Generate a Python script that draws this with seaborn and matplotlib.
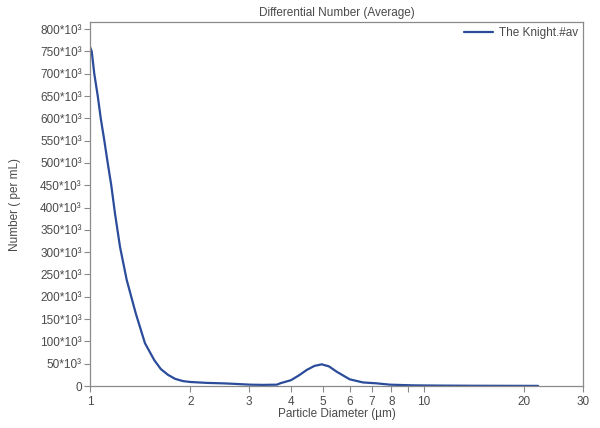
import numpy as np
import pandas as pd
import matplotlib; matplotlib.use("Agg")
import matplotlib.pyplot as plt
import matplotlib.ticker as mticker
import seaborn as sns

# (diameter in µm, count per mL)
diameter = [1.0, 1.012, 1.030, 1.055, 1.077, 1.104, 1.130, 1.158, 1.188, 1.230,
            1.288, 1.371, 1.461, 1.558, 1.63, 1.713, 1.80, 1.90,
            2.0, 2.242, 2.5, 2.682, 3.016, 3.3, 3.633, 3.709, 4.0, 4.23,
            4.459, 4.7, 4.946, 5.2, 5.485, 6.0, 6.576, 7.228, 7.922, 9.285,
            11.0, 14.0, 18.0, 22.0]
number_k = [760, 750, 700, 650, 600, 550, 500, 450, 387, 312,
            238, 163, 96, 58, 38, 25, 16, 11,
            9, 7, 6, 5, 3, 2.5, 3, 6, 13, 24,
            36, 45, 48.6, 44, 32, 15, 8, 6, 3, 1.5,
            1.0, 0.6, 0.4, 0.3]
series_name = "The Knight.#av"

x_major = [1, 2, 3, 4, 5, 6, 7, 8, 10, 20, 30]
x_minor = [9]
y_ticks = list(range(0, 800001, 50000))

LINE = "#2B4C9B"
TXT = "#4A4A4A"
SPINE = "#8A8A8A"

sns.set_style("white")
plt.rcParams["font.family"] = ["Liberation Sans", "DejaVu Sans"]

df = pd.DataFrame({"diameter": diameter,
                   "number": np.array(number_k) * 1000.0,
                   "series": series_name})

fig = plt.figure(figsize=(6.0, 4.28), dpi=100)
ax = fig.add_axes([0.15, 0.0981, 0.8217, 0.8505])

sns.lineplot(data=df, x="diameter", y="number", hue="series",
             palette=[LINE], lw=1.6, ax=ax, legend=True)

ax.set_xscale("log")
ax.set_xlim(1, 30)
ax.set_ylim(0, 816000)
ax.xaxis.set_major_locator(mticker.FixedLocator(x_major))
ax.xaxis.set_minor_locator(mticker.FixedLocator(x_minor))
ax.xaxis.set_major_formatter(mticker.FixedFormatter([str(v) for v in x_major]))
ax.xaxis.set_minor_formatter(mticker.NullFormatter())
ax.set_yticks(y_ticks)
ax.yaxis.set_major_formatter(mticker.FuncFormatter(
    lambda v, p: "0" if v == 0 else f"{int(round(v / 1000))}*10³"))

ax.tick_params(axis="both", which="both", direction="out", length=4,
               width=0.8, color=SPINE, labelcolor=TXT, labelsize=8.5,
               bottom=True, left=True, pad=2)
ax.tick_params(axis="x", which="major", pad=3)
for s in ax.spines.values():
    s.set_color(SPINE)
    s.set_linewidth(0.9)

ax.set_title("Differential Number (Average)", fontsize=8.5, color=TXT, pad=4)
ax.set_xlabel("Particle Diameter (µm)", fontsize=8.5, color=TXT, labelpad=0)
ax.set_ylabel("Number ( per mL)", fontsize=8.5, color=TXT, labelpad=14)

leg = ax.legend(loc="upper right", frameon=False, fontsize=8.5,
                handlelength=2.4, borderaxespad=0.05, handletextpad=0.5)
for t in leg.get_texts():
    t.set_color(TXT)

fig.savefig("out.png", dpi=100, facecolor="white")
